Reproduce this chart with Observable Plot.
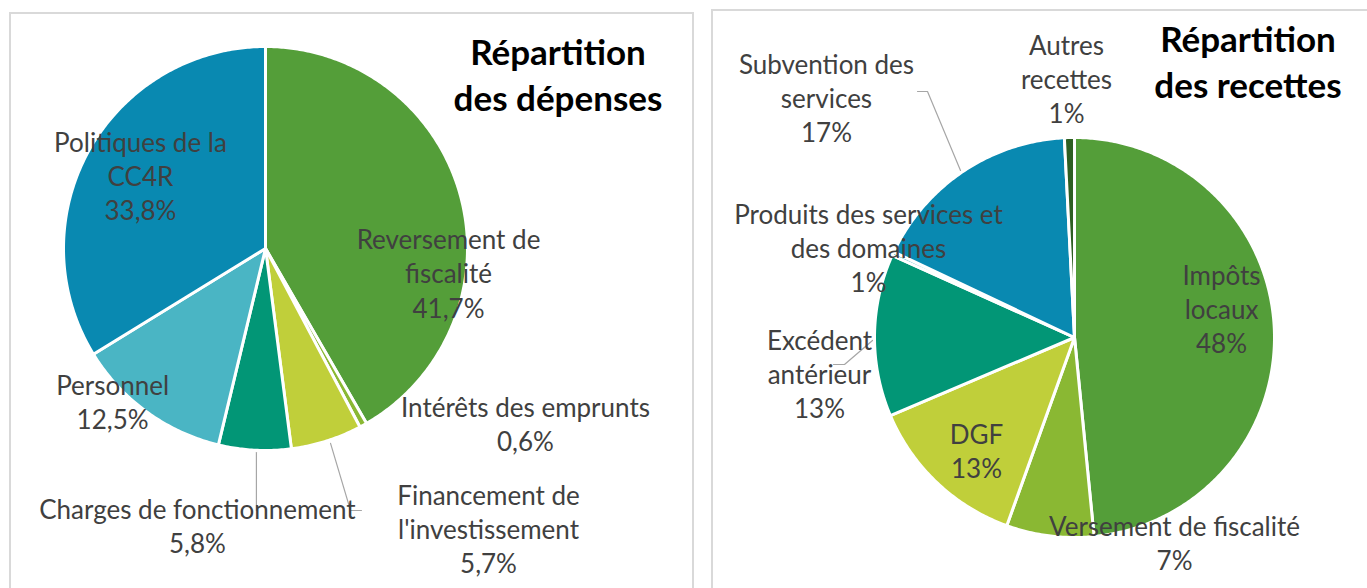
<!DOCTYPE html>
<html><head><meta charset="utf-8">
<script src="https://cdn.jsdelivr.net/npm/d3@7"></script>
<script src="https://cdn.jsdelivr.net/npm/@observablehq/plot@0.6"></script>
<style>
html,body{margin:0;padding:0;background:#fff;width:1367px;height:588px;overflow:hidden;font-family:Lato,"Open Sans",sans-serif;}
.panel{position:absolute;border:2px solid #d9d9d9;box-sizing:border-box;}
#p1{left:9px;top:12px;width:685px;height:640px;}
#p2{left:711px;top:9px;width:720px;height:640px;}
.chart{position:absolute;top:0;}
.title{position:absolute;font-family:Lato,sans-serif;font-weight:700;font-size:35px;line-height:46px;text-align:center;color:#000;white-space:nowrap;}
</style></head><body>
<div class="panel" id="p1"></div><div class="panel" id="p2"></div>
<div class="chart" id="c1" style="left:0px"></div>
<div class="chart" id="c2" style="left:700px"></div>
<div class="title" style="left:438px;top:28px;width:240px">Répartition<br>des dépenses</div>
<div class="title" style="left:1128px;top:15px;width:240px">Répartition<br>des recettes</div>
<script>
// ---- data: dépenses ----
const depCategories = ["Reversement de\nfiscalité", "Intérêts des emprunts", "Financement de\nl'investissement", "Charges de fonctionnement", "Personnel", "Politiques de la\nCC4R"];
const depValues = [41.7, 0.6, 5.7, 5.8, 12.5, 33.8];
const depPctLabels = ["41,7%", "0,6%", "5,7%", "5,8%", "12,5%", "33,8%"];

// ---- data: recettes ----
const recCategories = ["Impôts\nlocaux", "Versement de fiscalité", "DGF", "Excédent\nantérieur", "Produits des services et\ndes domaines", "Subvention des\nservices", "Autres\nrecettes"];
const recValues = [48, 7, 13, 13, 0.3, 17, 0.8];
const recPctLabels = ["48%", "7%", "13%", "13%", "1%", "17%", "1%"];

// ---- styles ----
const depColors = ["#549E39", "#8AB833", "#C0CF3A", "#029676", "#4AB5C4", "#0989B1"];
const recColors = ["#549E39", "#8AB833", "#C0CF3A", "#029676", "#4AB5C4", "#0989B1", "#2E5F22"];

// ---- layout (radius units, relative to pie centre, y up) ----
const depLabelPos = [[0.906, -0.134], [1.287, -0.879], [1.104, -1.401], [-0.337, -1.384], [-0.757, -0.770], [-0.619, 0.347]];
const recLabelPos = [[0.735, 0.13], [0.50, -1.04], [-0.49, -0.578], [-1.275, -0.195], [-1.03, 0.435], [-1.24, 1.185], [-0.04, 1.28]];
const depLeaders = [
  [[-0.045, -1.010], [-0.045, -1.297]],
  [[0.322, -0.965], [0.421, -1.297], [0.475, -1.297]]
];
const recLeaders = [
  [[-0.57, 0.835], [-0.735, 1.23], [-0.785, 1.23]],
  [[-1.01, -0.015], [-1.15, -0.135], [-1.205, -0.135]]
];

const FONT = "Lato, 'Open Sans', sans-serif";

function slicePoints(cats, vals, colors) {
  const arcs = d3.pie().sort(null).value(d => d)(vals);
  const pts = [];
  arcs.forEach((a, i) => {
    const n = Math.max(2, Math.ceil((a.endAngle - a.startAngle) / 0.01));
    pts.push({slice: cats[i], color: colors[i], x: 0, y: 0});
    for (let k = 0; k <= n; k++) {
      const t = a.startAngle + (a.endAngle - a.startAngle) * k / n;
      pts.push({slice: cats[i], color: colors[i], x: Math.sin(t), y: Math.cos(t)});
    }
    pts.push({slice: cats[i], color: colors[i], x: 0, y: 0});
  });
  return pts;
}

function makePie({cats, vals, pcts, colors, labelPos, leaders, width, height, cx, cy, r}) {
  const pts = slicePoints(cats, vals, colors);
  const labels = cats.map((c, i) => ({text: c + "\n" + pcts[i], x: labelPos[i][0], y: labelPos[i][1]}));
  const leaderPts = leaders.flatMap((l, j) => l.map(p => ({id: j, x: p[0], y: p[1]})));
  return Plot.plot({
    width, height,
    marginTop: 0, marginRight: 0, marginBottom: 0, marginLeft: 0,
    style: {background: "transparent", fontFamily: FONT, overflow: "visible"},
    x: {domain: [-cx / r, (width - cx) / r], axis: null},
    y: {domain: [(cy - height) / r, cy / r], axis: null},
    color: {type: "identity"},
    marks: [
      Plot.line(pts, {x: "x", y: "y", z: "slice", fill: "color", stroke: "white", strokeWidth: 3, strokeLinejoin: "round", curve: "linear"}),
      Plot.line(leaderPts, {x: "x", y: "y", z: "id", stroke: "#a6a6a6", strokeWidth: 1.2}),
      Plot.text(labels, {x: "x", y: "y", text: "text", fontSize: 26, lineHeight: 1.31, lineAnchor: "middle", textAnchor: "middle", dy: -3, fill: "#404040", fontFamily: FONT})
    ]
  });
}

document.getElementById("c1").append(makePie({
  cats: depCategories, vals: depValues, pcts: depPctLabels, colors: depColors,
  labelPos: depLabelPos, leaders: depLeaders,
  width: 700, height: 588, cx: 265, cy: 248, r: 202
}));
document.getElementById("c2").append(makePie({
  cats: recCategories, vals: recValues, pcts: recPctLabels, colors: recColors,
  labelPos: recLabelPos, leaders: recLeaders,
  width: 667, height: 588, cx: 374, cy: 337, r: 200
}));
</script>
</body></html>
